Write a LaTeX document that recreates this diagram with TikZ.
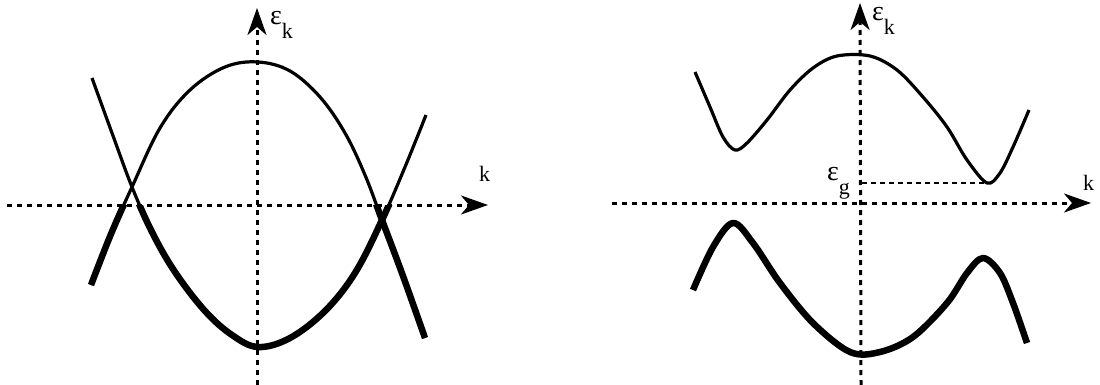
\documentclass[tikz,border=0pt]{standalone}
\usepackage{fontspec}
\setmainfont{Liberation Serif}
\usetikzlibrary{arrows.meta,positioning}

% ---------- styles shared by both panels
\tikzset{
  axis/.style={line width=3pt, dash pattern=on 5pt off 5pt,
    -{Stealth[length=27pt,width=19pt,inset=8pt]}},
  guide/.style={line width=2.8pt, dash pattern=on 5pt off 4pt},
  emptyband/.style={line width=3.2pt, line join=round},
  filledband/.style={line width=6.5pt, line join=round},
  symlab/.style={inner sep=0pt, anchor=base west, font=\fontsize{28}{28}\selectfont},
  klab/.style={inner sep=0pt, anchor=base west, font=\fontsize{22}{22}\selectfont},
}
% energy symbol with a deep subscript
\newcommand{\enlab}[1]{ε\raisebox{-14pt}{\fontsize{22}{22}\selectfont #1}}

\begin{document}
\begin{tikzpicture}[x=1pt, y=-1pt]
  \useasboundingbox (0,0) rectangle (1100,385);

  % ---------- band shapes (pixel-like coordinates, y grows downwards)
  \def\bandA{plot[smooth, tension=0.6] coordinates {(92,78) (112,133) (132,187)
    (152,232) (175,272) (205,311) (232,335) (258,347) (290,338) (325,311)
    (355,273) (382,220) (405,167) (426,115)}}
  \def\bandB{plot[smooth, tension=0.6] coordinates {(91,285) (111,234) (132,187)
    (160,128) (190,90) (225,67) (258,62) (290,71) (320,97) (345,133)
    (365,175) (382,220) (403,276) (425,338)}}
  \def\bandC{plot[smooth, tension=0.55] coordinates {(695,72) (710,107) (723,137)
    (735,150) (747,143) (767,120) (790,90) (813,68) (837,56) (870,56)
    (897,70) (923,97) (947,127) (967,160) (987,183) (1000,173) (1013,147) (1029,110)}}
  \def\bandD{plot[smooth, tension=0.55] coordinates {(693,290) (713,247) (733,223)
    (753,243) (780,283) (813,323) (850,352) (880,352) (913,337) (947,303)
    (967,273) (983,258) (1000,273) (1013,303) (1027,343)}}

  % ================= left panel: crossing bands =================
  \begin{scope}
    \coordinate (L-west) at (7,205);
    \coordinate (L-east) at (488,205);
    \coordinate (L-south) at (257,385);
    \coordinate (L-north) at (257,8);

    \draw[axis] (L-west) -- (L-east);
    \draw[axis] (L-south) -- (L-north);

    \draw[emptyband] \bandA;
    \draw[emptyband] \bandB;
    % parts below the axis are filled
    \begin{scope}
      \clip (0,205) rectangle (1100,385);
      \draw[filledband] \bandA;
      \draw[filledband] \bandB;
    \end{scope}

    \node[symlab] (L-eps) at (270,25) {\enlab{k}};
    \node[klab] (L-k) at (479,181) {k};
  \end{scope}

  % ================= right panel: gapped bands =================
  \begin{scope}
    \coordinate (R-west) at (612,203);
    \coordinate (R-east) at (1091,203);
    \coordinate (R-south) at (861,385);
    \coordinate (R-north) at (860,3);
    \coordinate (R-gap) at (862,183);
    \coordinate (R-min) at (987,183);

    \draw[axis] (R-west) -- (R-east);
    \draw[axis] (R-south) -- (R-north);
    \draw[guide] (R-gap) -- (R-min);

    \draw[emptyband] \bandC;
    \draw[filledband] \bandD;

    \node[symlab] (R-eps) at (872,21) {\enlab{k}};
    \node[symlab] (R-gaplab) at (827,180) {\enlab{g}};
    \node[klab] (R-k) at (1083,190) {k};
  \end{scope}
\end{tikzpicture}
\end{document}
